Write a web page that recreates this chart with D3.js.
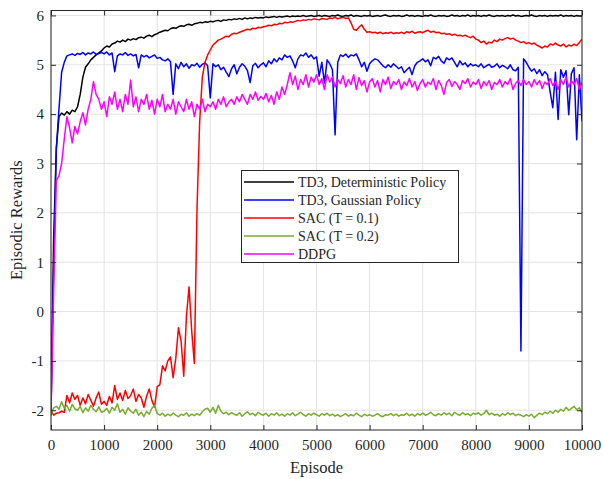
<!DOCTYPE html>
<html><head><meta charset="utf-8">
<script src="https://cdn.jsdelivr.net/npm/d3@7"></script>
<style>body{margin:0;background:#fff}svg{display:block}text{font-family:"Liberation Serif","Times New Roman",serif;fill:#262626}</style>
</head><body>
<svg id="c" width="603" height="479"></svg>
<script>
const seriesNames = ["TD3, Deterministic Policy","TD3, Gaussian Policy","SAC (T = 0.1)","SAC (T = 0.2)","DDPG"];
const seriesColors = ["#000000","#0000ff","#ff0000","#77ac30","#ff00ff"];
const xTicks = [0,1000,2000,3000,4000,5000,6000,7000,8000,9000,10000];
const yTicks = [-2,-1,0,1,2,3,4,5,6];
const episodeStep = 50;

const td3Det = [
-2.0,1.5,3.3,3.95,4.02,3.98,4.05,4.0,4.08,4.05,
4.15,4.4,4.75,4.95,5.02,5.1,5.15,5.2,5.24,5.28,
5.34,5.38,5.36,5.42,5.44,5.48,5.46,5.5,5.47,5.52,
5.5,5.53,5.51,5.55,5.56,5.54,5.58,5.6,5.57,5.61,
5.63,5.66,5.68,5.7,5.69,5.73,5.75,5.74,5.77,5.79,
5.78,5.81,5.82,5.8,5.83,5.84,5.86,5.85,5.87,5.86,
5.88,5.87,5.89,5.9,5.88,5.91,5.9,5.92,5.91,5.93,
5.92,5.94,5.92,5.95,5.93,5.95,5.94,5.96,5.95,5.96,
5.95,5.97,5.96,5.97,5.98,5.96,5.98,5.97,5.98,5.99,
5.97,5.99,5.98,5.99,5.98,6.0,5.98,5.99,6.0,5.98,
5.99,6.0,5.98,6.0,5.99,5.98,6.0,5.99,6.01,5.99,
5.98,6.0,5.99,6.01,5.98,6.0,5.99,5.98,6.0,5.99,
6.0,5.98,5.99,6.0,5.98,6.0,6.01,5.99,5.98,6.0,
5.99,6.0,5.98,5.99,6.01,5.99,6.0,5.98,6.0,5.99,
5.98,6.0,5.99,6.01,5.99,5.98,6.0,5.99,6.0,5.98,
5.99,6.01,5.99,6.0,5.98,6.0,5.99,6.01,5.98,6.0,
5.99,6.0,5.98,6.0,5.99,6.01,5.99,5.98,6.0,5.99,
6.0,5.98,6.0,5.99,6.01,5.99,6.0,5.98,5.99,6.0,
5.99,6.01,5.99,5.98,6.0,5.99,6.0,5.98,6.0,5.99,
6.0,5.99,6.01,5.98,6.0,5.99,6.0,5.98,6.0,5.99,
5.99];

const td3Gauss = [
-2.0,0.9,3.3,4.1,4.85,5.05,5.18,5.2,5.22,5.19,
5.23,5.21,5.25,5.2,5.24,5.22,5.26,5.21,5.23,5.25,
5.22,5.26,5.2,5.24,4.86,5.18,5.22,5.2,5.25,5.19,
5.22,5.18,5.21,4.94,5.2,5.16,5.19,5.14,5.17,5.2,
5.13,5.15,5.1,5.08,5.12,5.06,4.4,5.02,4.92,5.05,
4.96,5.02,4.93,5.0,4.98,5.03,4.95,5.01,5.04,4.98,
4.33,5.02,4.96,5.0,4.9,4.95,4.85,4.76,4.92,5.0,
4.82,4.95,5.02,4.97,4.88,4.64,4.98,5.03,4.94,5.0,
5.04,4.96,5.08,5.02,5.12,5.06,5.14,5.1,5.2,5.15,
5.18,5.08,4.94,5.12,5.2,5.18,5.24,5.15,5.2,5.12,
5.16,4.77,5.05,4.63,5.1,5.02,4.9,3.58,5.05,5.2,
5.17,5.22,5.15,5.2,5.18,5.22,5.1,4.96,5.05,4.87,
5.02,5.08,5.12,5.1,5.04,4.98,4.94,5.0,4.95,5.02,
4.97,4.92,4.96,4.84,4.9,4.95,4.8,4.98,5.05,5.08,
5.12,5.06,5.1,4.98,5.15,5.12,5.17,5.08,5.03,5.14,
5.1,5.14,5.05,4.96,5.08,5.0,5.04,4.96,5.02,4.98,
5.0,4.96,5.02,4.94,4.98,5.01,4.95,4.97,5.02,4.94,
4.99,4.96,4.92,5.0,4.9,4.88,4.95,-0.8,5.12,5.05,
4.95,4.87,4.92,4.82,4.9,4.78,4.86,4.8,4.45,4.13,
4.85,3.89,4.9,4.75,4.88,3.99,4.82,4.94,3.48,4.8,
3.85];

const sac01 = [
-2.0,-2.1,-2.06,-2.05,-2.02,-2.04,-1.7,-1.85,-1.65,-1.78,
-1.7,-1.9,-1.75,-1.87,-1.68,-1.8,-1.92,-1.75,-1.63,-1.88,
-1.82,-1.9,-1.72,-1.85,-1.5,-1.78,-1.65,-1.8,-1.6,-1.76,
-1.7,-1.57,-1.82,-1.68,-1.75,-1.94,-1.72,-1.57,-1.8,-1.94,
-1.52,-1.48,-1.1,-1.2,-1.0,-0.92,-1.34,-0.95,-0.33,-0.6,
-1.31,-0.1,0.5,-0.4,-1.05,2.1,3.85,4.75,5.05,5.2,
5.3,5.4,5.45,5.5,5.52,5.55,5.58,5.57,5.62,5.64,
5.63,5.66,5.68,5.7,5.72,5.71,5.74,5.73,5.76,5.75,
5.77,5.78,5.8,5.79,5.82,5.81,5.84,5.83,5.86,5.85,
5.87,5.86,5.88,5.9,5.89,5.91,5.9,5.92,5.91,5.93,
5.92,5.91,5.94,5.93,5.92,5.95,5.94,5.96,5.93,5.95,
5.96,5.94,5.95,5.85,5.72,5.7,5.76,5.81,5.72,5.66,
5.67,5.65,5.66,5.64,5.66,5.63,5.65,5.64,5.66,5.63,
5.65,5.64,5.66,5.63,5.67,5.65,5.68,5.64,5.66,5.67,
5.65,5.68,5.7,5.66,5.68,5.65,5.66,5.63,5.64,5.62,
5.63,5.6,5.62,5.59,5.6,5.58,5.6,5.57,5.55,5.58,
5.52,5.5,5.45,5.48,5.42,5.46,5.44,5.5,5.47,5.52,
5.5,5.53,5.55,5.52,5.54,5.5,5.48,5.45,5.47,5.43,
5.45,5.42,5.44,5.4,5.37,5.34,5.38,5.36,5.42,5.4,
5.44,5.4,5.38,5.42,5.36,5.4,5.38,5.42,5.39,5.45,
5.52];

const sac02 = [
-2.1,-1.95,-1.92,-1.98,-1.83,-1.96,-1.9,-2.02,-1.88,-1.97,
-2.0,-1.92,-2.05,-1.95,-2.02,-1.9,-1.98,-2.03,-1.93,-2.04,
-2.02,-1.96,-2.06,-1.94,-2.0,-1.87,-2.04,-1.98,-2.08,-1.95,
-2.02,-2.06,-1.98,-2.1,-2.04,-2.13,-2.02,-2.08,-1.96,-1.9,
-2.07,-2.1,-2.06,-2.12,-2.08,-2.11,-2.06,-2.1,-2.13,-2.08,
-2.1,-2.05,-2.12,-2.08,-2.11,-2.07,-2.1,-2.03,-1.98,-1.96,
-2.04,-1.94,-2.06,-1.9,-2.02,-2.07,-2.04,-2.09,-2.05,-2.08,
-2.1,-2.05,-2.12,-2.07,-2.03,-2.09,-2.06,-2.11,-2.04,-2.08,
-2.1,-2.06,-2.12,-2.07,-2.1,-2.05,-2.11,-2.08,-2.12,-2.07,
-2.1,-2.05,-2.11,-2.08,-2.04,-2.09,-2.12,-2.07,-2.1,-2.06,
-2.09,-2.12,-2.07,-2.1,-2.06,-2.11,-2.08,-2.12,-2.09,-2.13,
-2.1,-2.07,-2.12,-2.09,-2.11,-2.06,-2.1,-2.13,-2.08,-2.11,
-2.09,-2.12,-2.1,-2.07,-2.11,-2.13,-2.09,-2.1,-2.07,-2.11,
-2.08,-2.12,-2.09,-2.1,-2.06,-2.11,-2.08,-2.12,-2.07,-2.1,
-2.06,-2.1,-2.08,-2.04,-2.09,-2.11,-2.07,-2.1,-2.05,-2.09,
-2.06,-2.11,-2.04,-2.08,-2.1,-2.05,-2.09,-2.07,-2.11,-2.06,
-2.08,-2.05,-2.1,-2.07,-2.0,-2.09,-2.06,-2.1,-2.08,-2.12,
-2.07,-2.1,-2.05,-2.09,-2.06,-2.11,-2.08,-2.1,-2.13,-2.09,
-2.12,-2.08,-2.15,-2.1,-2.06,-2.09,-2.04,-2.07,-2.02,-2.06,
-2.0,-2.04,-1.98,-2.02,-1.94,-2.0,-1.96,-1.92,-1.99,-1.95,
-2.05];

const ddpg = [
-2.1,0.4,2.65,2.75,3.0,3.5,3.95,3.72,3.42,3.75,
3.6,3.85,4.03,3.78,4.1,4.3,4.66,4.4,4.3,4.1,
4.25,3.95,4.35,4.2,4.45,4.1,4.3,4.05,4.4,4.2,
4.69,4.15,4.35,4.05,4.3,4.2,4.4,4.1,4.28,4.0,
4.3,4.15,4.4,4.05,4.2,4.1,4.3,4.0,4.25,4.15,
4.05,4.3,4.1,4.25,3.95,4.2,4.1,4.3,4.05,4.2,
4.15,4.25,4.1,4.3,4.2,4.35,4.15,4.25,4.3,4.2,
4.35,4.25,4.4,4.3,4.2,4.4,4.3,4.45,4.28,4.36,
4.3,4.42,4.25,4.38,4.2,4.45,4.3,4.55,4.4,4.6,
4.84,4.6,4.77,4.5,4.7,4.6,4.8,4.55,4.75,4.65,
4.8,4.6,4.72,4.5,4.8,4.65,4.75,4.55,4.7,4.62,
4.78,4.55,4.7,4.6,4.8,4.5,4.74,4.58,4.68,4.45,
4.65,4.72,4.55,4.68,4.45,4.7,4.6,4.75,4.52,4.66,
4.6,4.7,4.5,4.65,4.58,4.72,4.55,4.66,4.48,4.62,
4.7,4.55,4.65,4.6,4.72,4.5,4.68,4.58,4.4,4.64,
4.7,4.56,4.66,4.6,4.5,4.68,4.62,4.72,4.55,4.65,
4.6,4.7,4.52,4.66,4.58,4.68,4.5,4.64,4.6,4.7,
4.55,4.66,4.6,4.72,4.5,4.62,4.68,4.58,4.7,4.6,
4.66,4.55,4.7,4.6,4.68,4.52,4.65,4.6,4.72,4.58,
4.66,4.5,4.7,4.6,4.75,4.55,4.68,4.6,4.72,4.5,
4.65];

const seriesValues = [td3Det, td3Gauss, sac01, sac02, ddpg];

const svg = d3.select("#c");
const L = 51, R = 582, T = 10.5, B = 430;
const x = d3.scaleLinear().domain([0, 10000]).range([L, R]);
const y = d3.scaleLinear().domain([-2.4, 6.1]).range([B, T]);

// grid
const g = svg.append("g");
g.selectAll(".gx").data(xTicks).enter().append("line")
  .attr("x1", d => x(d)).attr("x2", d => x(d)).attr("y1", T).attr("y2", B)
  .attr("stroke", "#e3e3e3").attr("stroke-width", 1);
g.selectAll(".gy").data(yTicks).enter().append("line")
  .attr("y1", d => y(d)).attr("y2", d => y(d)).attr("x1", L).attr("x2", R)
  .attr("stroke", "#e3e3e3").attr("stroke-width", 1);

// lines
const clip = svg.append("clipPath").attr("id", "clp").append("rect")
  .attr("x", L).attr("y", T).attr("width", R - L).attr("height", B - T);
const line = d3.line().x((d, i) => x(i * episodeStep)).y(d => y(d));
seriesValues.forEach((vals, k) => {
  svg.append("path").datum(vals).attr("d", line)
    .attr("fill", "none").attr("stroke", seriesColors[k]).attr("stroke-width", 1.5)
    .attr("stroke-linejoin", "round").attr("clip-path", "url(#clp)");
});

// axes (ticks inside, on all 4 sides)
const axColor = "#262626";
const xb = svg.append("g").attr("transform", `translate(0,${B})`)
  .call(d3.axisBottom(x).tickValues(xTicks).tickSize(-5).tickPadding(9).tickFormat(d3.format("d")));
const xt = svg.append("g").attr("transform", `translate(0,${T})`)
  .call(d3.axisTop(x).tickValues(xTicks).tickSize(-5).tickFormat(""));
const yl = svg.append("g").attr("transform", `translate(${L},0)`)
  .call(d3.axisLeft(y).tickValues(yTicks).tickSize(-5).tickPadding(7).tickFormat(d => d < 0 ? "-" + Math.abs(d) : d));
const yr = svg.append("g").attr("transform", `translate(${R},0)`)
  .call(d3.axisRight(y).tickValues(yTicks).tickSize(-5).tickFormat(""));
[xb, xt, yl, yr].forEach(a => {
  a.select(".domain").remove();
  a.selectAll(".tick line").attr("stroke", axColor).attr("stroke-width", 1);
  a.selectAll("text").style("font-family", '"Liberation Serif", serif').style("font-size", "15px").attr("fill", axColor);
});
svg.append("rect").attr("x", L).attr("y", T).attr("width", R - L).attr("height", B - T)
  .attr("fill", "none").attr("stroke", axColor).attr("stroke-width", 1);

// axis labels
svg.append("text").attr("x", (L + R) / 2).attr("y", 473).attr("text-anchor", "middle")
  .style("font-size", "16.5px").text("Episode");
svg.append("text").attr("transform", `translate(22,${(T + B) / 2}) rotate(-90)`).attr("text-anchor", "middle")
  .style("font-size", "16.5px").text("Episodic Rewards");

// legend
const lg = svg.append("g");
lg.append("rect").attr("x", 241.5).attr("y", 170.5).attr("width", 217).attr("height", 92)
  .attr("fill", "#fff").attr("stroke", axColor).attr("stroke-width", 1);
seriesNames.forEach((n, k) => {
  const yy = 182 + k * 18;
  lg.append("line").attr("x1", 244).attr("x2", 294).attr("y1", yy).attr("y2", yy)
    .attr("stroke", seriesColors[k]).attr("stroke-width", 1.5);
  lg.append("text").attr("x", 298).attr("y", yy + 5).style("font-size", "14px").text(n);
});
</script>
</body></html>
